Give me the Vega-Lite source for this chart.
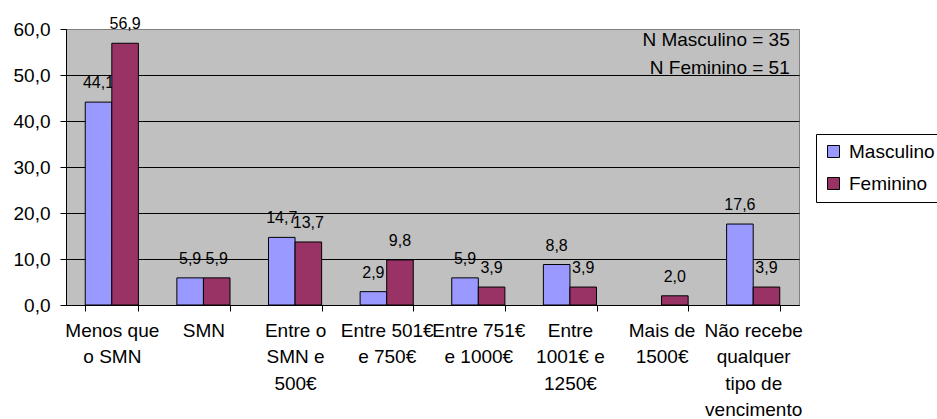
{
  "$schema": "https://vega.github.io/schema/vega-lite/v6.json",
  "width": 733,
  "height": 276,
  "autosize": "none",
  "padding": {"left": 66, "top": 29, "right": 138, "bottom": 114},
  "config": {
    "locale": {"number": {"decimal": ",", "thousands": ".", "grouping": [3], "currency": ["", " €"]}},
    "font": "Liberation Sans",
    "view": {"fill": "#c0c0c0", "stroke": "#808080", "strokeWidth": 1}
  },
  "data": {
    "values": [
      {"cat": "Menos que o SMN", "sex": "Masculino", "pct": 44.1},
      {"cat": "Menos que o SMN", "sex": "Feminino", "pct": 56.9},
      {"cat": "SMN", "sex": "Masculino", "pct": 5.9},
      {"cat": "SMN", "sex": "Feminino", "pct": 5.9},
      {"cat": "Entre o SMN e 500€", "sex": "Masculino", "pct": 14.7},
      {"cat": "Entre o SMN e 500€", "sex": "Feminino", "pct": 13.7},
      {"cat": "Entre 501€ e 750€", "sex": "Masculino", "pct": 2.9},
      {"cat": "Entre 501€ e 750€", "sex": "Feminino", "pct": 9.8},
      {"cat": "Entre 751€ e 1000€", "sex": "Masculino", "pct": 5.9},
      {"cat": "Entre 751€ e 1000€", "sex": "Feminino", "pct": 3.9},
      {"cat": "Entre 1001€ e 1250€", "sex": "Masculino", "pct": 8.8},
      {"cat": "Entre 1001€ e 1250€", "sex": "Feminino", "pct": 3.9},
      {"cat": "Mais de 1500€", "sex": "Feminino", "pct": 2.0},
      {"cat": "Não recebe qualquer tipo de vencimento", "sex": "Masculino", "pct": 17.6},
      {"cat": "Não recebe qualquer tipo de vencimento", "sex": "Feminino", "pct": 3.9}
    ]
  },
  "layer": [
    {
      "transform": [{"filter": "datum.sex == 'Masculino'"}],
      "mark": {"type": "bar", "stroke": "black", "strokeWidth": 1, "opacity": 1},
      "encoding": {
        "x": {
          "field": "cat", "type": "nominal",
          "scale": {"domain": ["Menos que o SMN", "SMN", "Entre o SMN e 500€", "Entre 501€ e 750€", "Entre 751€ e 1000€", "Entre 1001€ e 1250€", "Mais de 1500€", "Não recebe qualquer tipo de vencimento"], "paddingInner": 0.42, "paddingOuter": 0.21},
          "axis": {
            "title": null, "labelAngle": 0, "labelFontSize": 19, "labelColor": "black", "labelLimit": 0,
            "labelLineHeight": 26.5, "labelPadding": 10, "labelBaseline": "top",
            "domainColor": "black", "tickColor": "black", "tickSize": 6, "tickBand": "extent", "grid": false,
            "labelExpr": "datum.value == 'Menos que o SMN' ? ['Menos que', 'o SMN'] : datum.value == 'Entre o SMN e 500€' ? ['Entre o', 'SMN e', '500€'] : datum.value == 'Entre 501€ e 750€' ? ['Entre 501€', 'e 750€'] : datum.value == 'Entre 751€ e 1000€' ? ['Entre 751€', 'e 1000€'] : datum.value == 'Entre 1001€ e 1250€' ? ['Entre', '1001€ e', '1250€'] : datum.value == 'Mais de 1500€' ? ['Mais de', '1500€'] : datum.value == 'Não recebe qualquer tipo de vencimento' ? ['Não recebe', 'qualquer', 'tipo de', 'vencimento'] : datum.value"
          }
        },
        "xOffset": {"field": "sex", "type": "nominal", "scale": {"domain": ["Masculino", "Feminino"], "paddingInner": 0, "paddingOuter": 0}},
        "y": {
          "field": "pct", "type": "quantitative",
          "scale": {"domain": [0, 60], "nice": false},
          "axis": {
            "title": null, "values": [0, 10, 20, 30, 40, 50, 60], "format": ".1f",
            "labelFontSize": 19, "labelColor": "black", "labelPadding": 10,
            "domainColor": "black", "tickColor": "black", "tickSize": 6,
            "grid": true, "gridWidth": 1,
            "gridColor": {"condition": {"test": "datum.value == 60", "value": "#808080"}, "value": "black"}
          }
        },
        "color": {
          "field": "sex", "type": "nominal",
          "scale": {"domain": ["Masculino", "Feminino"], "range": ["#9999FF", "#993366"]},
          "legend": {
            "title": null, "orient": "none", "legendX": 750, "legendY": 105,
            "strokeColor": "black", "fillColor": "white", "padding": 8,
            "symbolType": "square", "symbolSize": 144, "symbolStrokeColor": "black", "symbolStrokeWidth": 1, "symbolOpacity": 1,
            "labelFontSize": 19, "labelColor": "black", "rowPadding": 12, "labelOffset": 6
          }
        }
      }
    },
    {
      "transform": [{"filter": "datum.sex == 'Masculino'"}],
      "mark": {"type": "text", "fontSize": 16, "dy": -14, "color": "black", "baseline": "alphabetic"},
      "encoding": {
        "x": {"field": "cat", "type": "nominal"},
        "xOffset": {"field": "sex", "type": "nominal"},
        "y": {"field": "pct", "type": "quantitative"},
        "text": {"field": "pct", "type": "quantitative", "format": ".1f"}
      }
    },
    {
      "transform": [{"filter": "datum.sex == 'Feminino'"}],
      "mark": {"type": "bar", "stroke": "black", "strokeWidth": 1, "opacity": 1},
      "encoding": {
        "x": {"field": "cat", "type": "nominal"},
        "xOffset": {"field": "sex", "type": "nominal"},
        "y": {"field": "pct", "type": "quantitative"},
        "color": {"field": "sex", "type": "nominal"}
      }
    },
    {
      "transform": [{"filter": "datum.sex == 'Feminino'"}],
      "mark": {"type": "text", "fontSize": 16, "dy": -14, "color": "black", "baseline": "alphabetic"},
      "encoding": {
        "x": {"field": "cat", "type": "nominal"},
        "xOffset": {"field": "sex", "type": "nominal"},
        "y": {"field": "pct", "type": "quantitative"},
        "text": {"field": "pct", "type": "quantitative", "format": ".1f"}
      }
    },
    {
      "data": {"values": [{"note": "N"}]},
      "mark": {"type": "text", "fontSize": 19, "align": "right", "baseline": "alphabetic", "dx": 10, "lineHeight": 28, "color": "black"},
      "encoding": {
        "x": {"datum": "Não recebe qualquer tipo de vencimento", "type": "nominal", "bandPosition": 1},
        "y": {"datum": 56.3, "type": "quantitative"},
        "text": {"value": ["N Masculino = 35", "N Feminino = 51"]}
      }
    }
  ]
}
